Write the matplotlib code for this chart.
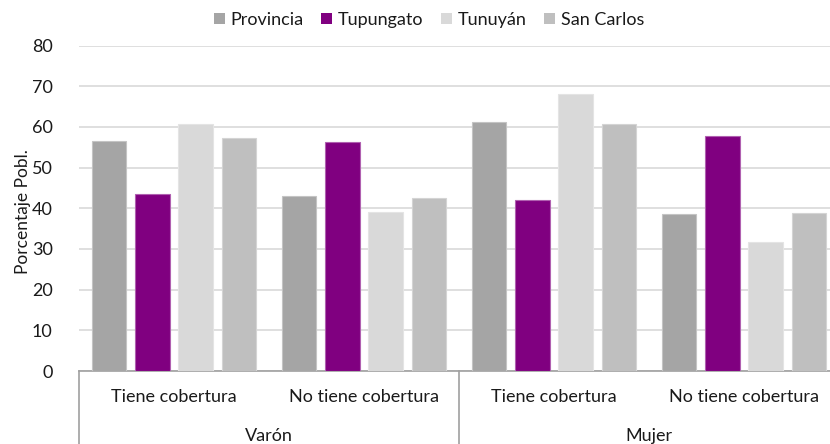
import matplotlib
matplotlib.use('Agg')
from matplotlib import pyplot as pl
from matplotlib.patches import Patch
import numpy as np

pl.rcParams['font.family'] = ['Lato', 'DejaVu Sans']

sexo = ['Varón', 'Mujer']
cobertura = ['Tiene cobertura', 'No tiene cobertura']
series = ['Provincia', 'Tupungato', 'Tunuyán', 'San Carlos']

provincia = [56.6, 43.0, 61.2, 38.5]
tupungato = [43.4, 56.3, 42.0, 57.7]
tunuyan = [60.7, 39.0, 68.0, 31.6]
san_carlos = [57.2, 42.5, 60.7, 38.9]

colors = ['#A5A5A5', '#800080', '#D9D9D9', '#BFBFBF']
edges = ['#C4C4C4', '#B060B0', '#E4E4E4', '#D4D4D4']

fig = pl.figure(figsize=(8.3, 4.44), dpi=100)
ax = fig.add_axes([79/830, 1 - 371/444, 760/830, (371 - 45.6)/444])

x = np.arange(4)
bw = 0.1826
step = 0.2285
for k, vals in enumerate([provincia, tupungato, tunuyan, san_carlos]):
    ax.bar(x + (k - 1.5)*step, vals, bw, color=colors[k],
           edgecolor=edges[k], linewidth=0.8, zorder=3)

ax.set_xlim(-0.5, 3.5)
ax.set_ylim(0, 80)
ax.set_yticks(range(0, 81, 10))
ax.yaxis.grid(True, color='#D9D9D9', linewidth=1.2, zorder=0)
ax.tick_params(axis='y', length=0, pad=19, labelsize=13, labelcolor='#1a1a1a')
ax.set_xticks([])
for s in ['left', 'right', 'top']:
    ax.spines[s].set_visible(False)
ax.spines['bottom'].set_color('#A0A0A0')
ax.spines['bottom'].set_linewidth(1.2)

ax.set_ylabel('Porcentaje Pobl.', fontsize=12.5, color='#1a1a1a')
ax.yaxis.set_label_coords(-0.063, 0.49)

tr = ax.get_xaxis_transform()
h = (371 - 45.6)
for xs in [-0.5, 1.5, 3.5]:
    ax.plot([xs, xs], [0, -80/h], transform=tr, color='#A0A0A0',
            linewidth=1.2, clip_on=False)

for i in range(4):
    ax.text(i, -26/h, cobertura[i % 2], transform=tr, ha='center',
            va='center', fontsize=13, color='#1a1a1a')
for j in range(2):
    ax.text(0.5 + 2*j, -65/h, sexo[j], transform=tr, ha='center',
            va='center', fontsize=13, color='#1a1a1a')

handles = [Patch(facecolor=c, edgecolor='none') for c in colors]
fig.legend(handles, series, loc='center', bbox_to_anchor=(429/830, 1 - 20/444),
           ncol=4, frameon=False, fontsize=13, handlelength=0.6,
           handleheight=0.6, handletextpad=0.3, columnspacing=1.0,
           labelcolor='#1a1a1a')

fig.savefig('out.png', dpi=100)
